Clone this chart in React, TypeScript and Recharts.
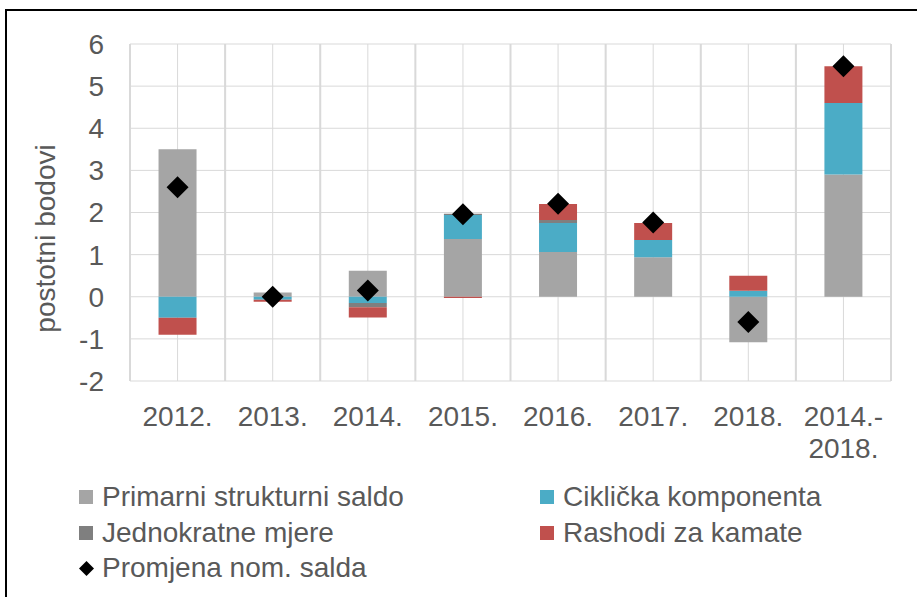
import React from "react";
import { ComposedChart, Bar, Line, XAxis, YAxis, CartesianGrid } from "recharts";

const categories = ["2012.", "2013.", "2014.", "2015.", "2016.", "2017.", "2018.", "2014.-\n2018."];
const primarni = [3.5, 0.1, 0.62, 1.37, 1.06, 0.94, -1.08, 2.9];
const ciklicka = [-0.5, -0.07, -0.15, 0.57, 0.69, 0.41, 0.14, 1.7];
const jednokratne = [0, 0, -0.1, 0.03, 0.07, 0, 0, 0];
const kamate = [-0.4, -0.05, -0.24, -0.03, 0.38, 0.4, 0.36, 0.87];
const promjena = [2.6, 0, 0.15, 1.96, 2.21, 1.76, -0.6, 5.47];
const yTicks = [-2, -1, 0, 1, 2, 3, 4, 5, 6];

const seriesNames = {
  primarni: "Primarni strukturni saldo",
  ciklicka: "Ciklička komponenta",
  jednokratne: "Jednokratne mjere",
  kamate: "Rashodi za kamate",
  promjena: "Promjena nom. salda",
};
const colors = {
  primarni: "#A5A5A5",
  ciklicka: "#4BACC6",
  jednokratne: "#7F7F7F",
  kamate: "#C0504D",
  promjena: "#000000",
};

const data = categories.map((c, i) => ({
  cat: c,
  primarni: primarni[i],
  ciklicka: ciklicka[i],
  jednokratne: jednokratne[i],
  kamate: kamate[i],
  promjena: promjena[i],
}));

const FONT = '"Liberation Sans", Arial, sans-serif';
const TEXT = "#595959";

const XTick = (props: any) => {
  const { x, y, payload } = props;
  const lines = String(payload.value).split("\n");
  return (
    <text x={x} y={y} textAnchor="middle" fill={TEXT} fontSize={28} fontFamily={FONT}>
      {lines.map((l: string, i: number) => (
        <tspan key={i} x={x} dy={i === 0 ? "0.71em" : 32}>
          {l}
        </tspan>
      ))}
    </text>
  );
};

const YTitle = (props: any) => {
  const vb = props.viewBox || {};
  const x = (vb.x ?? 0) + 55;
  const y = (vb.y ?? 0) + (vb.height ?? 0) / 2 + 26;
  return (
    <text
      x={0}
      y={0}
      transform={`translate(${x},${y}) rotate(-90)`}
      textAnchor="middle"
      fill={TEXT}
      fontSize={28}
      fontFamily={FONT}
    >
      postotni bodovi
    </text>
  );
};

const Diamond = (props: any) => {
  const { cx, cy } = props;
  if (cx == null || cy == null) return null;
  const r = 11;
  return <path d={`M${cx},${cy - r}L${cx + r},${cy}L${cx},${cy + r}L${cx - r},${cy}Z`} fill="#000" />;
};

const legendItems = [
  { key: "primarni", col: 0, row: 0 },
  { key: "ciklicka", col: 1, row: 0 },
  { key: "jednokratne", col: 0, row: 1 },
  { key: "kamate", col: 1, row: 1 },
  { key: "promjena", col: 0, row: 2 },
];

export default function App() {
  const N = categories.length;
  return (
    <div
      style={{
        position: "absolute",
        left: 0,
        top: 0,
        width: 917,
        height: 597,
        background: "#fff",
        fontFamily: FONT,
        overflow: "hidden",
      }}
    >
      <div style={{ position: "absolute", left: 5, top: 9, width: 920, height: 2, background: "#000" }} />
      <div style={{ position: "absolute", left: 5, top: 9, width: 2, height: 600, background: "#000" }} />
      <div style={{ position: "absolute", left: 0, top: 0 }}>
        <ComposedChart
          width={917}
          height={597}
          data={data}
          stackOffset="sign"
          barCategoryGap="30%"
          margin={{ top: 44, right: 26, left: 0, bottom: 136 }}
        >
          <CartesianGrid
            horizontal={true}
            vertical={true}
            stroke="#D9D9D9"
            strokeWidth={1}
            verticalCoordinatesGenerator={({ offset }: any) =>
              Array.from({ length: N * 2 + 1 }, (_, i) => offset.left + (i * offset.width) / (N * 2))
            }
          />
          <CartesianGrid
            horizontal={false}
            vertical={true}
            stroke="#D9D9D9"
            strokeWidth={2}
            verticalCoordinatesGenerator={({ offset }: any) =>
              Array.from({ length: N + 1 }, (_, i) => offset.left + (i * offset.width) / N)
            }
          />
          <XAxis
            dataKey="cat"
            axisLine={false}
            tickLine={false}
            tickSize={0}
            tickMargin={25}
            height={80}
            interval={0}
            tick={<XTick />}
          />
          <YAxis
            domain={[-2, 6]}
            ticks={yTicks}
            width={130}
            axisLine={false}
            tickLine={false}
            tickSize={0}
            tickMargin={26}
            tick={{ fill: TEXT, fontSize: 28, fontFamily: FONT }}
            label={<YTitle />}
          />
          <Bar dataKey="primarni" stackId="a" fill={colors.primarni} isAnimationActive={false} />
          <Bar dataKey="ciklicka" stackId="a" fill={colors.ciklicka} isAnimationActive={false} />
          <Bar dataKey="jednokratne" stackId="a" fill={colors.jednokratne} isAnimationActive={false} />
          <Bar dataKey="kamate" stackId="a" fill={colors.kamate} isAnimationActive={false} />
          <Line
            dataKey="promjena"
            stroke="none"
            dot={<Diamond />}
            activeDot={false}
            isAnimationActive={false}
          />
        </ComposedChart>
      </div>
      {legendItems.map((it) => {
        const left = it.col === 0 ? 79 : 540;
        const top = 497 + it.row * 35.5;
        const k = it.key as keyof typeof colors;
        return (
          <div key={it.key} style={{ position: "absolute", left, top: top - 18, height: 36, display: "flex", alignItems: "center" }}>
            {k === "promjena" ? (
              <svg width={15} height={15} style={{ marginRight: 8 }}>
                <path d="M7.5,0L15,7.5L7.5,15L0,7.5Z" fill="#000" />
              </svg>
            ) : (
              <div style={{ width: 14, height: 14, background: colors[k], marginRight: 9 }} />
            )}
            <span style={{ fontSize: 28, color: TEXT, whiteSpace: "nowrap", lineHeight: "36px" }}>{seriesNames[k]}</span>
          </div>
        );
      })}
    </div>
  );
}
